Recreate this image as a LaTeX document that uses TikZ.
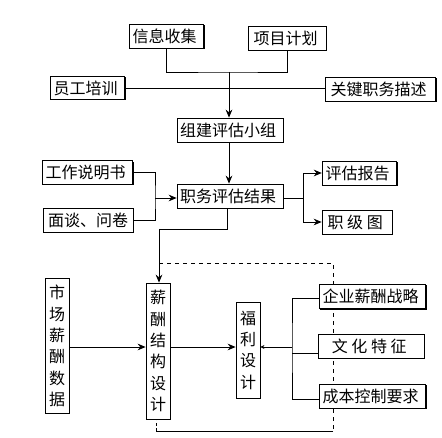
\documentclass[tikz,border=0pt]{standalone}
\usepackage{fontspec}
\setmainfont{Noto Sans CJK SC}
\usetikzlibrary{arrows.meta,shadows,backgrounds}

\tikzset{
  box/.style={draw, fill=white, line width=0.6pt, inner sep=0pt,
    drop shadow={shadow xshift=0.6pt, shadow yshift=-0.6pt, opacity=1, fill=black},
    font=\fontsize{12pt}{16pt}\selectfont, align=center},
  arr/.style={-{Stealth[length=6pt,width=5pt,inset=2pt]}},
  link/.style={line width=0.6pt}
}

\begin{document}
\begin{tikzpicture}[x=0.75pt,y=-0.75pt]
  \useasboundingbox (0,0) rectangle (442,438);

  % upper part
  \node [box, minimum width=56pt, minimum height=18pt] (xinxi) at (166.5,36) { 信息收集 };
  \node [box, minimum width=58pt, minimum height=18pt] (xiangmu) at (287.5,38) { 项目计划 };
  \node [box, minimum width=56pt, minimum height=17.5pt] (peixun) at (87.5,88) { 员工培训 };
  \node [box, minimum width=83pt, minimum height=18pt] (miaoshu) at (380.5,89) { 关键职务描述 };
  \node [box, minimum width=79.5pt, minimum height=18pt] (zujian) at (230,130) { 组建评估小组 };

  \coordinate (top) at (229,72);
  \draw [link] (xinxi.south) |- (top) -| (xiangmu.south);
  \draw [link] (peixun.east) -- (peixun.east -| miaoshu.west);
  \draw [link,arr] (top) -- (top |- zujian.north);

  % evaluation
  \node [box, minimum width=68pt, minimum height=17.5pt] (shuoming) at (87.5,172.5) { 工作说明书 };
  \node [box, minimum width=67.5pt, minimum height=17.5pt] (miantan) at (88,220.5) { \ 面谈、问卷 };
  \node [box, minimum width=79.5pt, minimum height=18pt] (zhiwu) at (230,196) { 职务评估结果 };
  \node [box, minimum width=56pt, minimum height=18pt] (baogao) at (359.5,173) { 评估报告 };
  \node [box, minimum width=52.5pt, minimum height=18pt] (zhiji) at (357,222) { 职\ 级\ 图 };

  \draw [link,arr] (zujian.south -| top) -- (zhiwu.north -| top);
  \coordinate (merge) at (155,198);
  \draw [link] (shuoming.east) -| (merge) |- (miantan.east);
  \draw [link,arr] (merge) -- (zhiwu.west |- merge);
  \coordinate (split) at (303,198);
  \draw [link] (zhiwu.east |- split) -- (split);
  \draw [link,arr] (split) |- (baogao.west);
  \draw [link,arr] (split) |- (zhiji.west);

  % pay structure
  \node [box, minimum width=18pt, minimum height=101pt] (shichang) at (57,346) { 市\\场\\薪\\酬\\数\\据 };
  \node [box, minimum width=18pt, minimum height=102pt] (xinchou) at (158,351) { 薪\\酬\\结\\构\\设\\计 };
  \node [box, minimum width=18pt, minimum height=72pt] (fuli) at (248,350) { 福\\利\\设\\计 };
  \node [box, minimum width=80pt, minimum height=18.5pt] (qiye) at (372.5,296.5) { 企业薪酬战略 };
  \node [box, minimum width=79.5pt, minimum height=17.5pt] (wenhua) at (371,346.5) { 文\ 化\ 特\ 征 };
  \node [box, minimum width=80pt, minimum height=18pt] (chengben) at (372.5,396) { 成本控制要求 };

  \coordinate (bend) at (159,229);
  \draw [link] (zhiwu.south -| 227,0) |- (bend);
  \draw [link,arr] (bend) -- (bend |- xinchou.north);
  \coordinate (row) at (0,347);
  \draw [link,arr] (shichang.east |- row) -- (xinchou.west |- row);
  \draw [link,arr] (xinchou.east |- row) -- (fuli.west |- row);

  \coordinate (fan) at (292,347);
  \coordinate (fanb) at (292,353);
  \draw [link,-{Stealth[length=3pt,width=3pt]}] (fan) -- (fuli.east |- fan);
  \draw [link] (qiye.west |- 0,298) -| (fan) |- (chengben.west |- 0,399);
  \draw [link] (fanb) -- (fanb -| wenhua.west);

  % feedback loop
  \coordinate (loopa) at (159,263);
  \coordinate (loopb) at (333,263);
  \coordinate (loopc) at (333,431);
  \coordinate (loopd) at (156,431);
  \begin{scope}[on background layer]
    \draw [link,dash pattern=on 3pt off 3pt] (loopa) -- (loopb) -- (loopc);
    \draw [link] (loopc) -- (loopd);
    \draw [link,dash pattern=on 2pt off 2pt] (loopd) -- (xinchou.south -| loopd);
  \end{scope}
\end{tikzpicture}
\end{document}
